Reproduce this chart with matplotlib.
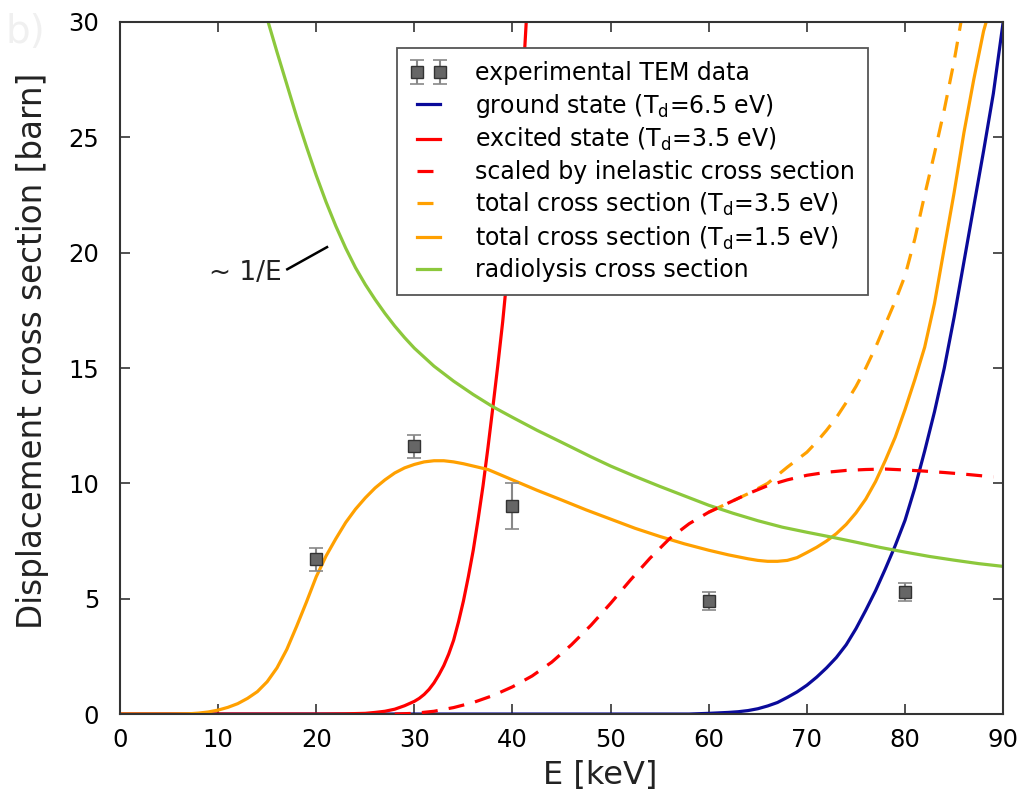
import matplotlib
matplotlib.use("Agg")
import matplotlib.pyplot as plt

# experimental TEM data
exp_E = [20, 30, 40, 60, 80]
exp_Y = [6.7, 11.6, 9.0, 4.9, 5.3]
exp_err = [0.5, 0.5, 1.0, 0.38, 0.38]

# ground state (Td = 6.5 eV)
ground_E = [0, 58, 60, 61, 62, 63, 64, 65, 66, 67, 68, 69, 70, 71, 72, 73, 74, 75, 76, 77,
            78, 79, 80, 81, 82, 83, 84, 85, 86, 87, 88, 89, 90]
ground_Y = [0, 0, 0.03, 0.05, 0.07, 0.1, 0.15, 0.23, 0.35, 0.5, 0.72, 0.96, 1.25, 1.6, 2.0,
            2.45, 3.0, 3.7, 4.5, 5.35, 6.3, 7.3, 8.4, 9.8, 11.4, 13.1, 15.0, 17.2, 19.6, 22.0,
            24.4, 26.9, 30.0]

# excited state (Td = 3.5 eV)
exc_E = [0, 20, 23, 25, 26, 27, 28, 29, 30, 30.5, 31, 31.5, 32, 32.5, 33, 33.5, 34, 34.5, 35,
         35.5, 36, 36.5, 37, 37.5, 38, 38.5, 39, 39.5, 40, 40.5, 41, 41.4]
exc_Y = [0, 0, 0.01, 0.03, 0.07, 0.12, 0.21, 0.36, 0.55, 0.68, 0.85, 1.07, 1.35, 1.7, 2.1,
         2.6, 3.2, 4.0, 4.9, 5.95, 7.1, 8.45, 9.9, 11.55, 13.3, 15.1, 17.0, 19.2, 21.5, 24.1,
         27.0, 30.0]

# scaled by inelastic cross section
scal_E = [28, 30, 32, 34, 36, 38, 40, 42, 44, 46, 48, 50, 52, 54, 56, 58, 60, 62, 64, 66,
          68, 70, 72, 74, 76, 78, 80, 82, 84, 86, 88, 89]
scal_Y = [0, 0.03, 0.12, 0.28, 0.5, 0.8, 1.18, 1.65, 2.25, 3.0, 3.85, 4.8, 5.8, 6.75, 7.6, 8.25,
          8.75, 9.15, 9.55, 9.9, 10.15, 10.35, 10.48, 10.56, 10.6, 10.62, 10.58, 10.53, 10.47,
          10.4, 10.32, 10.28]

# total cross section (Td = 3.5 eV)
tot35_E = [60, 62, 64, 66, 68, 70, 71, 72, 73, 74, 75, 76, 77, 78, 79, 80, 81, 82, 83, 84,
           85, 85.7]
tot35_Y = [8.75, 9.15, 9.55, 10.0, 10.7, 11.35, 11.8, 12.3, 12.85, 13.5, 14.2, 15.0, 15.9,
           16.9, 17.9, 19.0, 20.6, 22.5, 24.3, 26.2, 28.3, 30.0]

# total cross section (Td = 1.5 eV)
tot15_E = [0, 5, 7, 8, 9, 10, 11, 12, 13, 14, 15, 16, 17, 18, 19, 20, 21, 22, 23, 24, 25, 26,
           27, 28, 29, 30, 31, 32, 33, 34, 35, 37.5, 40, 42.5, 45, 47.5, 50, 52.5, 55, 57.5,
           60, 62, 64, 65, 66, 67, 68, 69, 70, 71, 72, 73, 74, 75, 76, 77, 78, 79, 80, 81,
           82, 83, 84, 85, 86, 87, 88, 88.4]
tot15_Y = [0, 0, 0.01, 0.04, 0.09, 0.17, 0.29, 0.45, 0.68, 0.97, 1.4, 2.0, 2.8, 3.8, 4.85,
           5.95, 6.85, 7.6, 8.3, 8.88, 9.37, 9.8, 10.15, 10.45, 10.67, 10.82, 10.93, 10.98,
           10.98, 10.93, 10.85, 10.6, 10.15, 9.7, 9.28, 8.85, 8.45, 8.05, 7.7, 7.38, 7.1,
           6.9, 6.73, 6.66, 6.62, 6.62, 6.66, 6.78, 7.0, 7.23, 7.5, 7.82, 8.22, 8.72, 9.32,
           10.08, 11.0, 12.0, 13.2, 14.5, 15.9, 17.8, 20.2, 22.6, 25.2, 27.5, 29.6, 30.2]

# radiolysis cross section
rad_E = [15.1, 16, 17, 18, 19, 20, 21, 22, 23, 24, 25, 26, 27, 28, 29, 30, 32, 34, 36, 38, 40,
         42.5, 45, 48, 50, 52.5, 55, 57.5, 60, 62.5, 65, 67.5, 70, 72.5, 75, 77.5, 80, 82.5,
         85, 87.5, 90]
rad_Y = [30.0, 28.7, 27.3, 25.9, 24.6, 23.35, 22.2, 21.15, 20.2, 19.35, 18.62, 17.97, 17.37,
         16.82, 16.32, 15.86, 15.08, 14.43, 13.85, 13.32, 12.86, 12.3, 11.78, 11.15, 10.75,
         10.3, 9.87, 9.46, 9.05, 8.7, 8.38, 8.1, 7.88, 7.67, 7.45, 7.22, 7.02, 6.83, 6.67,
         6.52, 6.4]

plt.rcParams['font.family'] = 'DejaVu Sans'
plt.rcParams['xtick.direction'] = 'in'
plt.rcParams['ytick.direction'] = 'in'
plt.rcParams['xtick.top'] = True
plt.rcParams['ytick.right'] = True

fig = plt.figure(figsize=(10.27, 8.05), dpi=100)
ax = fig.add_axes([0.1168, 0.113, 0.86, 0.8597])

lw = 2.3
dash = (0, (5, 3.5))
ax.errorbar(exp_E, exp_Y, yerr=exp_err, fmt='s', color='#666666', ecolor='#888888',
            mec='#333333', ms=8.5, capsize=5, elinewidth=1.5, capthick=1.2,
            label='experimental TEM data', zorder=10)
ax.plot(ground_E, ground_Y, color='#0a0a9a', lw=lw, label='ground state (T$_\\mathrm{d}$=6.5 eV)')
ax.plot(exc_E, exc_Y, color='#ff0000', lw=lw, label='excited state (T$_\\mathrm{d}$=3.5 eV)')
ax.plot(tot35_E, tot35_Y, color='#ffa000', lw=lw, ls=dash, zorder=2,
        label='total cross section (T$_\\mathrm{d}$=3.5 eV)')
ax.plot(scal_E, scal_Y, color='#ff0000', lw=lw, ls=dash, zorder=3,
        label='scaled by inelastic cross section')
ax.plot(tot15_E, tot15_Y, color='#ffa000', lw=lw, label='total cross section (T$_\\mathrm{d}$=1.5 eV)')
ax.plot(rad_E, rad_Y, color='#8cc83c', lw=lw, label='radiolysis cross section')

ax.set_xlim(0, 90)
ax.set_ylim(0, 30)
ax.set_xticks(range(0, 91, 10))
ax.set_yticks(range(0, 31, 5))
ax.tick_params(labelsize=17.5, length=7, width=1.2, color='#333333')
ax.tick_params(axis='x', pad=10)
ax.tick_params(axis='y', pad=15)
for s in ax.spines.values():
    s.set_linewidth(1.5)
    s.set_color('#333333')

ax.set_xlabel('E [keV]', fontsize=23, color='#222222', x=0.5436, labelpad=6)
ax.set_ylabel('Displacement cross section [barn]', fontsize=23.5, color='#222222',
              y=0.525, labelpad=14)

# annotation ~ 1/E
ax.text(16.5, 19.1, '~ 1/E', fontsize=19, ha='right', va='center', color='#222222')
ax.plot([17.05, 21.1], [19.28, 20.24], color='black', lw=1.8)

h, l = ax.get_legend_handles_labels()
order = [6, 0, 1, 3, 2, 4, 5]
leg = ax.legend([h[i] for i in order], [l[i] for i in order], loc='upper left',
                bbox_to_anchor=(0.3137, 0.9624), borderaxespad=0, fontsize=17,
                numpoints=2, fancybox=False, handlelength=1.55, handletextpad=1.2,
                labelspacing=0.28, borderpad=0.55, framealpha=1)
leg.get_frame().set_edgecolor('#555555')
leg.get_frame().set_linewidth(1.3)

fig.text(0.005, 0.96, 'b)', fontsize=28, color='#f0f0f0', ha='left', va='center')

fig.savefig('out.png', dpi=100)
